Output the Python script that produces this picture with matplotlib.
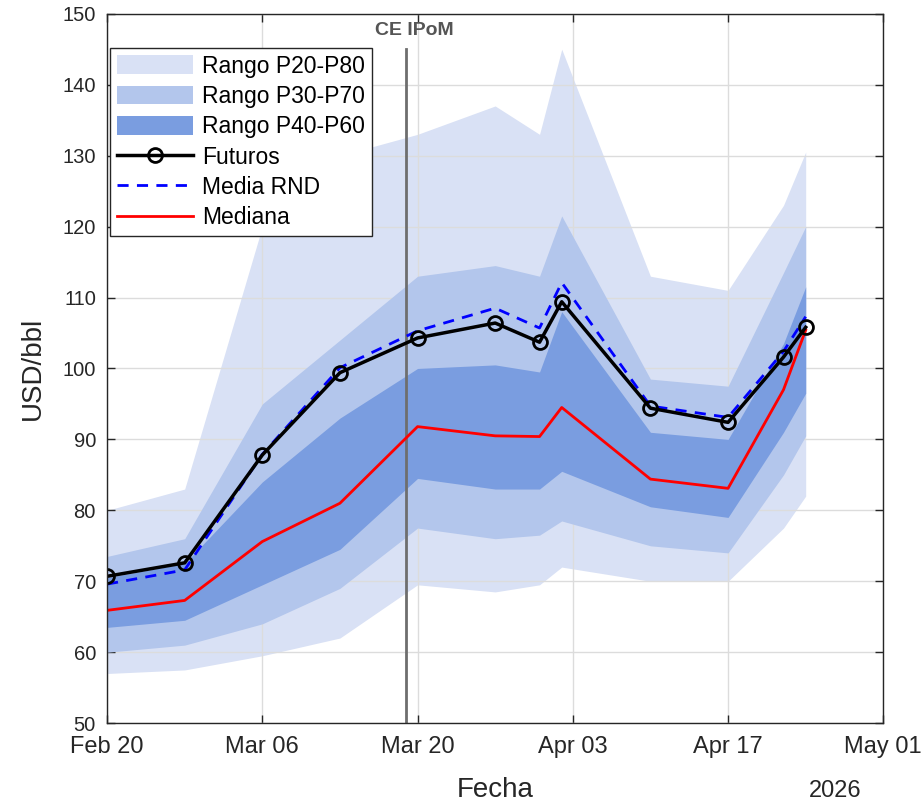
import numpy as np
import pandas as pd
import matplotlib
matplotlib.use("Agg")
import matplotlib.pyplot as plt
import matplotlib.dates as mdates
from matplotlib.patches import Patch
from matplotlib.lines import Line2D

# Data
fechas = pd.to_datetime(["2026-02-20", "2026-02-27", "2026-03-06", "2026-03-13",
                         "2026-03-20", "2026-03-27", "2026-03-31", "2026-04-02",
                         "2026-04-10", "2026-04-17", "2026-04-22", "2026-04-24"])
futuros = [70.7, 72.6, 87.8, 99.4, 104.3, 106.4, 103.7, 109.4, 94.4, 92.4, 101.6, 105.8]
media_rnd = [69.6, 71.6, 87.9, 100.1, 105.3, 108.5, 105.7, 112.1, 94.7, 93.1, 102.4, 107.3]
mediana = [65.9, 67.3, 75.6, 81.0, 91.8, 90.5, 90.4, 94.5, 84.4, 83.1, 97.0, 105.4]

p20 = [57.0, 57.5, 59.5, 62.0, 69.5, 68.5, 69.5, 72.0, 70.0, 70.0, 77.5, 82.0]
p30 = [60.0, 61.0, 64.0, 69.0, 77.5, 76.0, 76.5, 78.5, 75.0, 74.0, 85.0, 90.5]
p40 = [63.5, 64.5, 69.5, 74.5, 84.5, 83.0, 83.0, 85.5, 80.5, 79.0, 91.0, 96.5]
p60 = [70.5, 72.5, 84.0, 93.0, 100.0, 100.5, 99.5, 108.0, 91.0, 90.0, 103.5, 111.5]
p70 = [73.5, 76.0, 95.0, 104.0, 113.0, 114.5, 113.0, 121.5, 98.5, 97.5, 113.5, 120.0]
p80 = [80.0, 83.0, 120.0, 130.0, 133.0, 137.0, 133.0, 145.0, 113.0, 111.0, 123.0, 130.5]

fecha_ipom = pd.Timestamp("2026-03-19")

c_light = "#d9e1f5"
c_mid = "#b3c6ec"
c_dark = "#7a9de0"
c_text = "#262626"

plt.rcParams["font.family"] = ["Liberation Sans", "DejaVu Sans"]

fig = plt.figure(figsize=(9.23, 8.08), dpi=100)
ax = fig.add_axes([0.116, 0.105, 0.841, 0.878])

ax.fill_between(fechas, p20, p80, color=c_light, lw=0, zorder=1)
ax.fill_between(fechas, p30, p70, color=c_mid, lw=0, zorder=2)
ax.fill_between(fechas, p40, p60, color=c_dark, lw=0, zorder=3)

ax.plot([fecha_ipom, fecha_ipom], [50, 145], color="#6e6e6e", lw=2, zorder=4)
ax.text(fecha_ipom + pd.Timedelta(hours=18), 147.6, "CE IPoM", color="#555555",
        fontsize=14, fontweight="bold", ha="center", va="center", zorder=6)

ax.plot(fechas, mediana, color="red", lw=2, zorder=5)
ax.plot(fechas, media_rnd, color="blue", lw=2, ls=(0, (4, 3)), zorder=5)
ax.plot(fechas, futuros, color="black", lw=2.5, marker="o", ms=10,
        mfc="none", mec="black", mew=2, zorder=6)

ax.set_xlim(pd.Timestamp("2026-02-20"), pd.Timestamp("2026-05-01"))
ax.set_ylim(50, 150)
ax.set_yticks(np.arange(50, 151, 10))
ax.set_xticks(pd.date_range("2026-02-20", "2026-05-01", freq="14D"))
ax.xaxis.set_major_formatter(mdates.DateFormatter("%b %d"))

ax.grid(True, color="#dcdcdc", lw=1)
for g in ax.get_xgridlines() + ax.get_ygridlines():
    g.set_zorder(0.5)
ax.tick_params(direction="in", length=6, width=1, top=True, right=True,
               colors=c_text)
ax.tick_params(axis="y", labelsize=14.5, pad=8)
ax.tick_params(axis="x", labelsize=17, pad=9)
for s in ax.spines.values():
    s.set_color(c_text)
    s.set_linewidth(1)
    s.set_zorder(7)

ax.set_xlabel("Fecha", fontsize=20, color=c_text, labelpad=14)
ax.set_ylabel("USD/bbl", fontsize=20, color=c_text, labelpad=12)
fig.text(862 / 923, 1 - 791 / 808, "2026", fontsize=17, color=c_text,
         ha="right", va="center")

handles = [Patch(facecolor=c_light, edgecolor="none"),
           Patch(facecolor=c_mid, edgecolor="none"),
           Patch(facecolor=c_dark, edgecolor="none"),
           Line2D([], [], color="black", lw=2.5, marker="o", ms=10, mfc="none", mew=2),
           Line2D([], [], color="blue", lw=2, ls=(0, (4, 3))),
           Line2D([], [], color="red", lw=2)]
labels = ["Rango P20-P80", "Rango P30-P70", "Rango P40-P60",
          "Futuros", "Media RND", "Mediana"]
leg = ax.legend(handles, labels, loc="upper left", bbox_to_anchor=(0.004, 0.952),
                fontsize=16.5, frameon=True, fancybox=False, framealpha=1,
                edgecolor=c_text, handlelength=3.3, handleheight=0.87,
                labelspacing=0.32, borderpad=0.3, borderaxespad=0,
                handletextpad=0.4)
leg.get_frame().set_linewidth(1)
leg.set_zorder(10)

fig.savefig("out.png", dpi=100)
